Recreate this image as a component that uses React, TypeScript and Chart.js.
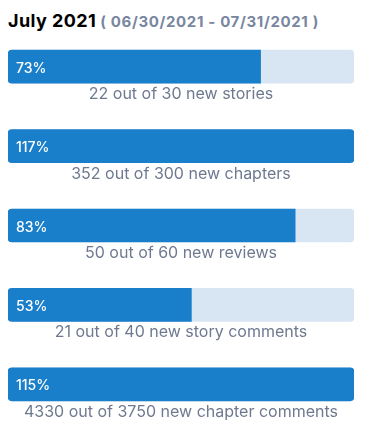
import React, { useEffect, useRef } from "react";
import { Chart, registerables } from "chart.js";

Chart.register(...registerables);

const titleMonth = "July 2021";
const titleRange = "( 06/30/2021 - 07/31/2021 )";
const categories = [
  "new stories",
  "new chapters",
  "new reviews",
  "new story comments",
  "new chapter comments",
];
const achieved = [22, 352, 50, 21, 4330];
const goals = [30, 300, 60, 40, 3750];

const FILL = "#1a7fca";
const TRACK = "#d8e6f3";
const LABEL = "#6e7990";
const FONT = "Inter, 'Noto Sans', sans-serif";

export default function App() {
  const ref = useRef<HTMLCanvasElement | null>(null);

  useEffect(() => {
    const percents = achieved.map((a, i) => Math.round((a / goals[i]) * 100));
    const fillValues = percents.map((p) => Math.min(p, 100));
    const trackValues = categories.map(() => 100);

    const textPlugin = {
      id: "progressText",
      afterDatasetsDraw(chart: any) {
        const ctx = chart.ctx;
        const meta = chart.getDatasetMeta(0);
        const area = chart.chartArea;
        ctx.save();
        meta.data.forEach((el: any, i: number) => {
          const top = el.y - el.height / 2;
          ctx.fillStyle = "#ffffff";
          ctx.font = `500 14px ${FONT}`;
          ctx.textAlign = "left";
          ctx.textBaseline = "alphabetic";
          ctx.fillText(`${percents[i]}%`, el.base + 8, el.y + 6);
          ctx.fillStyle = LABEL;
          ctx.font = `400 16px ${FONT}`;
          ctx.textAlign = "center";
          ctx.fillText(
            `${achieved[i]} out of ${goals[i]} ${categories[i]}`,
            (area.left + area.right) / 2,
            top + el.height + 16
          );
        });
        ctx.restore();
      },
    };

    const chart = new Chart(ref.current!, {
      type: "bar",
      data: {
        labels: categories,
        datasets: [
          {
            data: fillValues,
            backgroundColor: FILL,
            grouped: false,
            barThickness: 33,
            borderSkipped: false,
            borderRadius: (c: any) => {
              const v = c.raw as number;
              return v >= 100
                ? 4
                : { topLeft: 4, bottomLeft: 4, topRight: 0, bottomRight: 0 };
            },
          } as any,
          {
            data: trackValues,
            backgroundColor: TRACK,
            grouped: false,
            barThickness: 33,
            borderSkipped: false,
            borderRadius: 4,
          } as any,
        ],
      },
      options: {
        indexAxis: "y",
        animation: false,
        responsive: true,
        maintainAspectRatio: false,
        layout: { padding: 0 },
        plugins: {
          legend: { display: false },
          tooltip: { enabled: false },
          title: { display: false },
        },
        scales: {
          x: { display: false, min: 0, max: 100 },
          y: { display: false },
        },
      },
      plugins: [textPlugin],
    });
    return () => chart.destroy();
  }, []);

  return (
    <div style={{ position: "relative", width: 349, height: 416, fontFamily: FONT }}>
      <div
        style={{
          position: "absolute",
          left: 0,
          top: 2,
          whiteSpace: "nowrap",
          lineHeight: "22px",
        }}
      >
        <span style={{ fontWeight: 700, fontSize: 18, color: "#000", letterSpacing: 0.4 }}>
          {titleMonth}
        </span>
        <span
          style={{
            fontWeight: 700,
            fontSize: 15,
            color: "#7886a0",
            letterSpacing: 0.65,
          }}
        >
          {" "}
          {titleRange}
        </span>
      </div>
      <div style={{ position: "absolute", left: 0, top: 19, width: 346, height: 397 }}>
        <canvas ref={ref} />
      </div>
    </div>
  );
}
